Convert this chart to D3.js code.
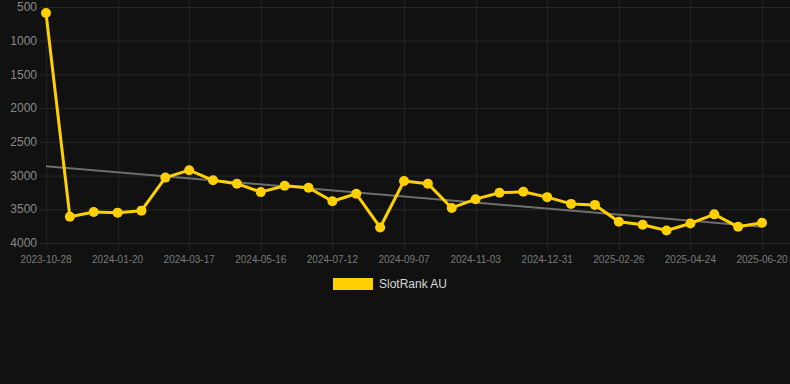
<!DOCTYPE html>
<html>
<head>
<meta charset="utf-8">
<script src="https://cdn.jsdelivr.net/npm/d3@7"></script>
<style>
  html, body { margin: 0; padding: 0; background: #111111; }
  svg { display: block; font-family: "Liberation Sans", Arial, sans-serif; }
</style>
</head>
<body>
<div id="chart"></div>
<script>
// Dates (category axis, every 3rd one is labelled)
const dates = [
  "2023-10-28", "2023-11-25", "2023-12-23", "2024-01-20", "2024-02-08", "2024-02-27",
  "2024-03-17", "2024-04-06", "2024-04-26", "2024-05-16", "2024-06-04", "2024-06-23",
  "2024-07-12", "2024-07-31", "2024-08-19", "2024-09-07", "2024-09-26", "2024-10-15",
  "2024-11-03", "2024-11-22", "2024-12-12", "2024-12-31", "2025-01-19", "2025-02-07",
  "2025-02-26", "2025-03-17", "2025-04-05", "2025-04-24", "2025-05-13", "2025-06-01",
  "2025-06-20"
];
// Rank values (lower = better, axis is reversed)
const ranks = [
  590, 3610, 3540, 3550, 3520, 3030, 2920, 3070, 3120, 3245,
  3150, 3180, 3380, 3270, 3770, 3080, 3120, 3480, 3350, 3255,
  3240, 3320, 3420, 3435, 3685, 3730, 3815, 3710, 3575, 3760,
  3700
];
const yTicks = [500, 1000, 1500, 2000, 2500, 3000, 3500, 4000];
const seriesName = "SlotRank AU";

const width = 790;
const height = 384;
const gold = "#ffd000";

const svg = d3.select("#chart")
    .append("svg")
    .attr("width", width)
    .attr("height", height);

const x = d3.scalePoint()
    .domain(dates)
    .range([46, 762]);

const y = d3.scaleLinear()
    .domain([500, 4000])
    .range([7, 243]);

// grid
svg.append("g")
    .selectAll("line")
    .data(yTicks)
    .join("line")
    .attr("x1", 40)
    .attr("x2", width)
    .attr("y1", d => y(d) + 0.5)
    .attr("y2", d => y(d) + 0.5)
    .attr("stroke", "#262626")
    .attr("stroke-width", 1);

const labelled = dates.filter((d, i) => i % 3 === 0);

svg.append("g")
    .selectAll("line")
    .data(labelled)
    .join("line")
    .attr("x1", d => Math.round(x(d)) + 0.5)
    .attr("x2", d => Math.round(x(d)) + 0.5)
    .attr("y1", 0)
    .attr("y2", 250)
    .attr("stroke", "#222222")
    .attr("stroke-width", 1);

// y axis labels
svg.append("g")
    .selectAll("text")
    .data(yTicks)
    .join("text")
    .attr("x", 37)
    .attr("y", d => y(d))
    .attr("dy", "0.35em")
    .attr("text-anchor", "end")
    .attr("fill", "#8a8a8a")
    .attr("font-size", 12)
    .text(d => d);

// x axis labels
svg.append("g")
    .selectAll("text")
    .data(labelled)
    .join("text")
    .attr("x", d => x(d))
    .attr("y", 263)
    .attr("text-anchor", "middle")
    .attr("fill", "#7a7a7a")
    .attr("font-size", 10)
    .text(d => d);

// trend line (least squares over index)
const n = ranks.length;
const idx = d3.range(n);
const mx = d3.mean(idx);
const my = d3.mean(ranks);
const slope = d3.sum(idx, i => (i - mx) * (ranks[i] - my)) / d3.sum(idx, i => (i - mx) ** 2);
const intercept = my - slope * mx;

svg.append("line")
    .attr("x1", x(dates[0]))
    .attr("x2", x(dates[n - 1]))
    .attr("y1", y(intercept))
    .attr("y2", y(intercept + slope * (n - 1)))
    .attr("stroke", "#6e6e6e")
    .attr("stroke-width", 2);

// series line
const line = d3.line()
    .x((d, i) => x(dates[i]))
    .y(d => y(d));

svg.append("path")
    .datum(ranks)
    .attr("d", line)
    .attr("fill", "none")
    .attr("stroke", gold)
    .attr("stroke-width", 3)
    .attr("stroke-linejoin", "round");

svg.append("g")
    .selectAll("circle")
    .data(ranks)
    .join("circle")
    .attr("cx", (d, i) => x(dates[i]))
    .attr("cy", d => y(d))
    .attr("r", 5)
    .attr("fill", gold);

// legend
const legend = svg.append("g");
legend.append("rect")
    .attr("x", 333)
    .attr("y", 278)
    .attr("width", 40)
    .attr("height", 12)
    .attr("fill", gold);
legend.append("text")
    .attr("x", 379)
    .attr("y", 284)
    .attr("dy", "0.35em")
    .attr("fill", "#d8d8d8")
    .attr("font-size", 12)
    .text(seriesName);
</script>
</body>
</html>
